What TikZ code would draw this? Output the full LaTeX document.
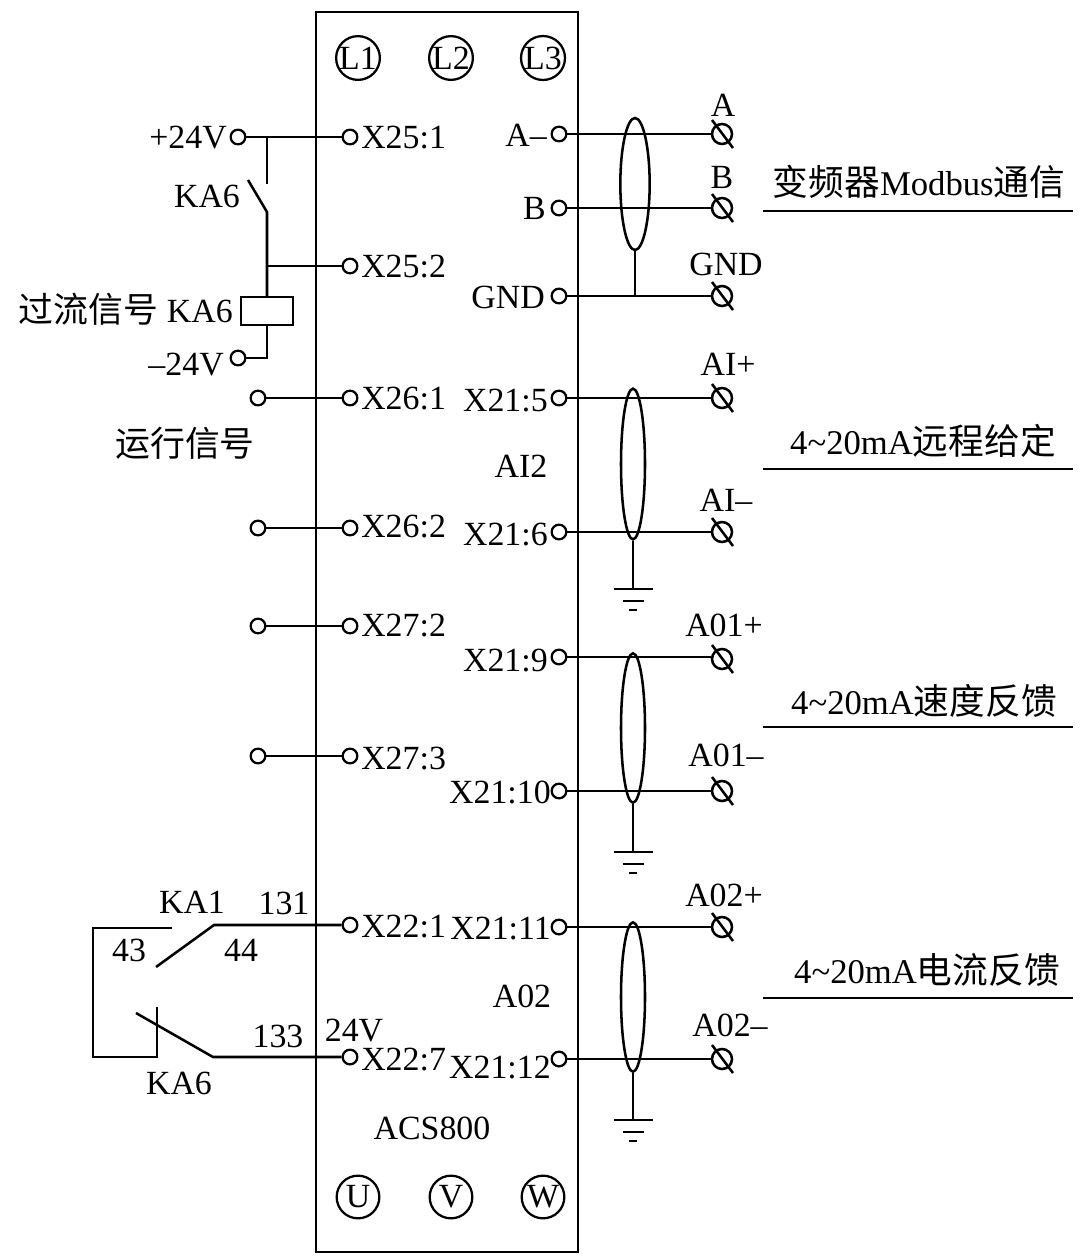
\documentclass[tikz,border=0pt]{standalone}
\usepackage{fontspec}
\setmainfont{Liberation Serif}
\newfontfamily\cjk[Scale=1.03]{Noto Sans CJK SC}
\usetikzlibrary{shapes.geometric,calc}
\tikzset{
  wire/.style={line width=1.9pt,line cap=butt},
  term/.style={circle,draw,line width=1.7pt,minimum size=11pt,inner sep=0pt,fill=white},
  outerterm/.style={circle,draw,line width=1.9pt,minimum size=15pt,inner sep=0pt},
  phase/.style={circle,draw,line width=1.7pt,inner sep=0pt,font=\fontsize{25.4}{27}\selectfont},
  shield/.style={ellipse,draw,line width=1.9pt,inner sep=0pt},
  lab/.style={inner sep=0pt,text height=16.6pt,text depth=0pt,font=\fontsize{25.4}{27}\selectfont},
  titlelab/.style={lab,font=\fontsize{26}{28}\selectfont},
  coil/.style={rectangle,draw,line width=1.7pt,minimum width=39pt,minimum height=21pt,inner sep=0pt},
}
\newcommand{\gndsym}[1]{%
  \draw[wire] (#1)++(-19.5,0) -- ++(39,0);
  \draw[wire] (#1)++(-10.5,12) -- ++(21,0);
  \draw[wire] (#1)++(-4,21) -- ++(8,0);
}
\newcommand{\outerT}[3]{%
  \node[outerterm] (#1) at (#2,#3) {};
  \draw[wire] ($(#1.center)+(-10,-14)$) -- ($(#1.center)+(11,14)$);
}
\begin{document}
\begin{tikzpicture}[x=0.75pt,y=-0.75pt]
\useasboundingbox (0,0) rectangle (1080,1260);
\fill[white] (0,0) rectangle (1080,1260);
% box
\node[draw,line width=1.9pt,outer sep=0pt,minimum width=196.5pt,minimum height=930pt,inner sep=0pt,anchor=north west] (box) at (316,12) {};
% phases
\node[phase,minimum size=25pt] (L1) at (358,58) {L1};
\node[phase,minimum size=25pt] (L2) at (451,58) {L2};
\node[phase,minimum size=25pt] (L3) at (543,58) {L3};
\node[phase,minimum size=32pt] (U) at (358,1197) {U};
\node[phase,minimum size=32pt] (V) at (451,1197) {V};
\node[phase,minimum size=32pt] (W) at (543,1197) {W};
% left terminals
\foreach \n/\y in {X251/137,X252/266,X261/398,X262/528,X272/626,X273/756,X221/925,X227/1057}
  \node[term] (\n) at (350,\y) {};
\node[term] (p24) at (238,137) {};
\node[term] (m24) at (238,358) {};
\node[term] (r1) at (258,398) {};
\node[term] (r2) at (258,528) {};
\node[term] (r3) at (258,626) {};
\node[term] (r4) at (258,756) {};
% wires left
\draw[wire] (p24) -- (X251);
\draw[wire] (r1) -- (X261);
\draw[wire] (r2) -- (X262);
\draw[wire] (r3) -- (X272);
\draw[wire] (r4) -- (X273);
% KA6 coil branch
\coordinate (j1) at (267,137);
\coordinate (sw1) at (267,184);
\coordinate (sw2) at (267,212);
\coordinate (sw3) at (248,180);
\coordinate (j2) at (267,266);
\coordinate (j3) at (267,358);
\node[coil] (coil) at (267,311) {};
\draw[wire] (j1) -- (sw1);
\draw[wire] (sw3) -- (sw2) -- (coil.north);
\draw[wire] (j2) -- (X252);
\draw[wire] (coil.south) -- (j3) -- (m24);
% bottom-left contacts
\coordinate (c1) at (172,928);
\coordinate (c2) at (93,928);
\coordinate (c3) at (93,1057);
\coordinate (c4) at (157,1057);
\coordinate (c5) at (157,1007);
\coordinate (k1) at (156,967);
\coordinate (k2) at (214,925);
\coordinate (k3) at (136,1013);
\coordinate (k4) at (213,1057);
\draw[wire] (c1) -- (c2) -- (c3) -- (c4) -- (c5);
\draw[wire] (k1) -- (k2) -- (X221);
\draw[wire] (k3) -- (k4) -- (X227);
% right inner terminals and outer terminals
\foreach \n/\y in {ia/134,ib/208,ig/296,i5/398,i6/532,i9/657,i10/791,i11/927,i12/1059}
  \node[term] (\n) at (559,\y) {};
\outerT{oa}{722}{134}
\outerT{ob}{722}{208}
\outerT{og}{722}{296}
\outerT{o5}{722}{398}
\outerT{o6}{722}{532}
\outerT{o9}{722}{659}
\outerT{o10}{722}{791}
\outerT{o11}{722}{927}
\outerT{o12}{722}{1059}
\draw[wire] (ia) -- (oa);
\draw[wire] (ib) -- (ob);
\draw[wire] (ig) -- (og);
\draw[wire] (i5) -- (o5);
\draw[wire] (i6) -- (o6);
\draw[wire] (i9) -- (i9 -| o9.west);
\draw[wire] (i10) -- (o10);
\draw[wire] (i11) -- (o11);
\draw[wire] (i12) -- (o12);
% shields
\node[shield,minimum width=22pt,minimum height=99pt] (s1) at (635,184) {};
\node[shield,minimum width=18pt,minimum height=113pt] (s2) at (633,464) {};
\node[shield,minimum width=18pt,minimum height=112pt] (s3) at (633,728) {};
\node[shield,minimum width=18pt,minimum height=112pt] (s4) at (633,997) {};
\draw[wire] (s1.south) -- (s1.south |- ig);
\coordinate (g2) at (633,589);
\coordinate (g3) at (633,852);
\coordinate (g4) at (633,1120);
\draw[wire] (s2.south) -- (g2);
\draw[wire] (s3.south) -- (g3);
\draw[wire] (s4.south) -- (g4);
\gndsym{g2}
\gndsym{g3}
\gndsym{g4}
% signal underlines
\coordinate (u1a) at (763,211); \coordinate (u1b) at (1073,211);
\coordinate (u2a) at (763,469); \coordinate (u2b) at (1073,469);
\coordinate (u3a) at (763,727); \coordinate (u3b) at (1073,727);
\coordinate (u4a) at (763,998); \coordinate (u4b) at (1073,998);
\draw[wire] (u1a) -- (u1b);
\draw[wire] (u2a) -- (u2b);
\draw[wire] (u3a) -- (u3b);
\draw[wire] (u4a) -- (u4b);
% left terminal labels
\foreach \t/\y/\m in {X25:1/137/a,X25:2/266/b,X26:1/398/c,X26:2/526/d,X27:2/625/e,X27:3/758/f,X22:1/926/g,X22:7/1059/h}
  \node[lab,anchor=west] (tl\m) at (361,\y) {\t};
% right inner labels
\foreach \t/\x/\y/\m in {A\char"2013/547/135/a,B/546/208/b,GND/545/297/c,X21:5/548/400/d,X21:6/548/534/e,X21:9/548/660/f,X21:10/551/792/g,X21:11/551/928/h,X21:12/551/1067/i}
  \node[lab,anchor=east] (tr\m) at (\x,\y) {\t};
% outer labels
\foreach \t/\x/\y/\m in {A/723/105/a,B/722/177/b,GND/726/264/c,AI+/728/364/d,AI\char"2013/726/500/e,A01+/724/625/f,A01\char"2013/726/755/g,A02+/724/895/h,A02\char"2013/730/1025/i}
  \node[lab] (ol\m) at (\x,\y) {\t};
% misc labels
\node[lab] (lAI2) at (521,466) {AI2};
\node[lab] (lA02) at (522,996) {A02};
\node[lab] (lACS) at (432,1128) {ACS800};
\node[lab,anchor=east] (lp24) at (227,137) {+24V};
\node[lab,anchor=east] (lm24) at (224,364) {\char"2013 24V};
\node[lab] (lka6a) at (207,196) {KA6};
\node[lab,anchor=east] (lcoil) at (233,311) {{\cjk 过流信号} KA6};
\node[lab] (lrun) at (185,445) {\cjk 运行信号};
\node[lab] (lka1) at (192,902) {KA1};
\node[lab] (l131) at (284,903) {131};
\node[lab] (l43) at (129,950) {43};
\node[lab] (l44) at (241,950) {44};
\node[lab] (l133) at (278,1036) {133};
\node[lab] (l24v) at (354,1030) {24V};
\node[lab] (lka6b) at (179,1083) {KA6};
% right titles
\node[titlelab] (t1) at (919,184) {{\cjk 变频器}Modbus{\cjk 通信}};
\node[titlelab] (t2) at (923,443) {4\char"7E 20mA{\cjk 远程给定}};
\node[titlelab] (t3) at (924,703) {4\char"7E 20mA{\cjk 速度反馈}};
\node[titlelab] (t4) at (927,972) {4\char"7E 20mA{\cjk 电流反馈}};
\end{tikzpicture}
\end{document}
